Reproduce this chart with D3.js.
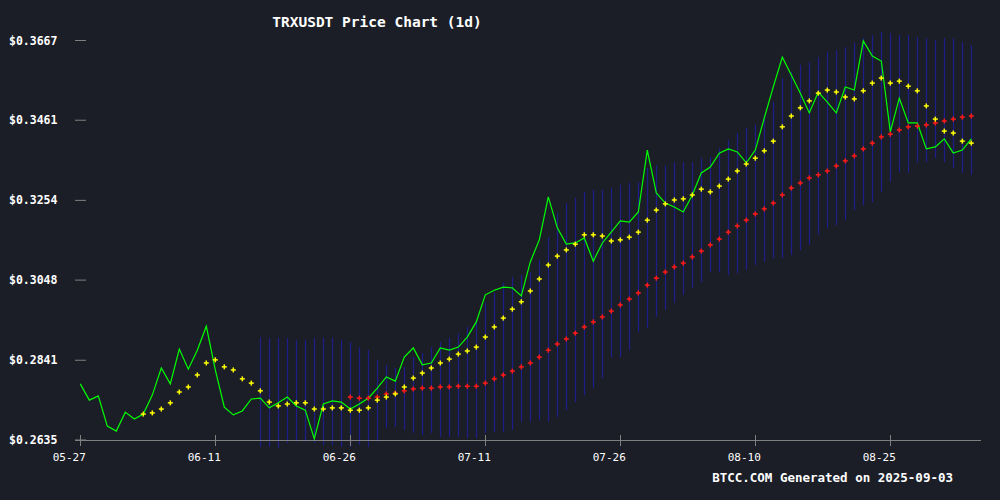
<!DOCTYPE html>
<html><head><meta charset="utf-8">
<script src="https://cdn.jsdelivr.net/npm/d3@7"></script>
<style>html,body{margin:0;padding:0;background:#1b1e27;}svg{display:block;}</style>
</head><body><svg id="c" width="1000" height="500"></svg>
<script>
const startDate = "2025-05-27";
const xTickLabels = ["05-27","06-11","06-26","07-11","07-26","08-10","08-25"];
const yTickValues = [0.2635,0.2841,0.3048,0.3254,0.3461,0.3667];
const price = [0.2780,0.2738,0.2749,0.2671,0.2658,0.2707,0.2689,0.2702,0.2751,0.2821,
0.2780,0.2870,0.2818,0.2867,0.2929,0.2816,0.2720,0.2700,0.2710,0.2741,
0.2743,0.2718,0.2731,0.2746,0.2723,0.2712,0.2638,0.2728,0.2736,0.2733,
0.2715,0.2728,0.2743,0.2769,0.2798,0.2787,0.2849,0.2873,0.2829,0.2834,
0.2873,0.2867,0.2875,0.2901,0.2940,0.3010,0.3022,0.3030,0.3028,0.3007,
0.3095,0.3152,0.3263,0.3183,0.3141,0.3144,0.3157,0.3097,0.3144,0.3172,
0.3201,0.3198,0.3224,0.3384,0.3273,0.3247,0.3237,0.3224,0.3268,0.3325,
0.3340,0.3376,0.3387,0.3379,0.3351,0.3384,0.3467,0.3547,0.3624,0.3578,
0.3531,0.3480,0.3534,0.3508,0.3480,0.3547,0.3539,0.3666,0.3627,0.3614,
0.3431,0.3518,0.3454,0.3454,0.3387,0.3392,0.3413,0.3376,0.3384,0.3413];
const maShortStart = 7;
const maShort = [0.2702,0.2705,0.2715,0.2731,0.2759,0.2772,0.2803,0.2834,0.2842,0.2824,
0.2816,0.2793,0.2782,0.2762,0.2733,0.2723,0.2728,0.2731,0.2731,0.2715,
0.2715,0.2718,0.2718,0.2712,0.2712,0.2718,0.2738,0.2746,0.2754,0.2772,
0.2795,0.2808,0.2821,0.2834,0.2844,0.2857,0.2865,0.2875,0.2901,0.2927,
0.2950,0.2973,0.2992,0.3020,0.3051,0.3087,0.3110,0.3126,0.3141,0.3165,
0.3165,0.3162,0.3149,0.3152,0.3159,0.3172,0.3203,0.3229,0.3245,0.3255,
0.3258,0.3268,0.3283,0.3276,0.3291,0.3309,0.3330,0.3348,0.3363,0.3382,
0.3407,0.3444,0.3472,0.3493,0.3511,0.3531,0.3539,0.3534,0.3521,0.3516,
0.3537,0.3557,0.3570,0.3557,0.3562,0.3549,0.3537,0.3498,0.3464,0.3433,
0.3428,0.3407,0.3402];
const maLongStart = 30;
const maLong = [0.2746,0.2743,0.2743,0.2746,0.2754,0.2756,0.2762,0.2767,0.2769,0.2769,
0.2772,0.2772,0.2774,0.2774,0.2774,0.2782,0.2793,0.2803,0.2813,0.2824,
0.2834,0.2849,0.2867,0.2883,0.2896,0.2911,0.2927,0.2940,0.2953,0.2968,
0.2984,0.2999,0.3015,0.3035,0.3053,0.3069,0.3082,0.3092,0.3108,0.3123,
0.3139,0.3154,0.3172,0.3188,0.3203,0.3219,0.3232,0.3247,0.3268,0.3286,
0.3299,0.3312,0.3320,0.3330,0.3343,0.3356,0.3369,0.3387,0.3402,0.3418,
0.3425,0.3436,0.3444,0.3446,0.3449,0.3454,0.3459,0.3464,0.3469,0.3472];
const bandStart = 20;
const bandUpper = [0.2901,0.2899,0.2899,0.2899,0.2893,0.2893,0.2899,0.2899,0.2899,0.2893,
0.2888,0.2875,0.2867,0.2842,0.2829,0.2821,0.2824,0.2849,0.2860,0.2875,
0.2888,0.2899,0.2911,0.2927,0.2945,0.2989,0.3015,0.3041,0.3056,0.3061,
0.3069,0.3100,0.3159,0.3221,0.3247,0.3260,0.3276,0.3281,0.3281,0.3286,
0.3294,0.3299,0.3301,0.3338,0.3345,0.3345,0.3353,0.3353,0.3353,0.3363,
0.3366,0.3389,0.3410,0.3428,0.3441,0.3449,0.3475,0.3508,0.3570,0.3586,
0.3604,0.3611,0.3624,0.3637,0.3642,0.3650,0.3661,0.3673,0.3681,0.3689,
0.3686,0.3681,0.3681,0.3676,0.3673,0.3668,0.3673,0.3673,0.3663,0.3655];
const bandLower = [0.2617,0.2617,0.2614,0.2627,0.2630,0.2630,0.2627,0.2622,0.2622,0.2617,
0.2617,0.2622,0.2617,0.2630,0.2666,0.2669,0.2661,0.2653,0.2648,0.2653,
0.2643,0.2643,0.2643,0.2640,0.2640,0.2653,0.2656,0.2656,0.2661,0.2682,
0.2682,0.2687,0.2682,0.2694,0.2712,0.2733,0.2751,0.2769,0.2795,0.2849,
0.2849,0.2867,0.2914,0.2924,0.2953,0.2971,0.2989,0.3010,0.3028,0.3043,
0.3069,0.3069,0.3061,0.3066,0.3074,0.3087,0.3095,0.3105,0.3105,0.3113,
0.3126,0.3139,0.3165,0.3183,0.3190,0.3203,0.3229,0.3242,0.3250,0.3276,
0.3301,0.3327,0.3325,0.3351,0.3353,0.3363,0.3353,0.3338,0.3325,0.3320];

const svg = d3.select("#c");
const mono = "'DejaVu Sans Mono', 'Liberation Mono', monospace";
svg.append("rect").attr("width",1000).attr("height",500).attr("fill","#1b1e27");

const t0 = new Date(startDate + "T00:00:00Z");
const day = 86400000;
const dateOf = i => new Date(t0.getTime() + i*day);
const x = d3.scaleUtc().domain([dateOf(0), dateOf(99)]).range([80.3, 971.3]);
const y = d3.scaleLinear().domain([0.2635, 0.3667]).range([440, 40.5]);
const px = v => Math.round(v) + 0.5;

// bands
const bands = bandUpper.map((u,i)=>({i:i+bandStart,u,l:bandLower[i]}));
svg.append("g").selectAll("line").data(bands).join("line")
  .attr("x1",d=>px(x(dateOf(d.i)))).attr("x2",d=>px(x(dateOf(d.i))))
  .attr("y1",d=>y(d.u)).attr("y2",d=>y(d.l))
  .attr("stroke","#1e1e8a").attr("stroke-width",1.2);

// axes
svg.append("line").attr("x1",75).attr("x2",981).attr("y1",y(0.2635)+0.5).attr("y2",y(0.2635)+0.5)
  .attr("stroke","#808080").attr("stroke-width",1);
const xTicks = xTickLabels.map((l,k)=>({l,d:dateOf(k*15)}));
const xg = svg.append("g");
xg.selectAll("line").data(xTicks).join("line")
  .attr("x1",d=>px(x(d.d))).attr("x2",d=>px(x(d.d))).attr("y1",435).attr("y2",446)
  .attr("stroke","#808080");
xg.selectAll("text").data(xTicks).join("text")
  .attr("x",d=>x(d.d)-11).attr("y",461).attr("text-anchor","middle")
  .attr("fill","#ffffff").attr("font-family",mono).attr("font-size",11).text(d=>d.l);

const yg = svg.append("g");
yg.selectAll("line").data(yTickValues).join("line")
  .attr("x1",75).attr("x2",86).attr("y1",d=>y(d)).attr("y2",d=>y(d))
  .attr("stroke","#808080");
yg.selectAll("text").data(yTickValues).join("text")
  .attr("x",9).attr("y",d=>y(d)+4).attr("fill","#ffffff").attr("font-weight","bold")
  .attr("font-family",mono).attr("font-size",11.5).text(d=>"$"+d.toFixed(4));

// price line
svg.append("path").datum(price)
  .attr("d", d3.line().x((d,i)=>x(dateOf(i))).y(d=>y(d)))
  .attr("fill","none").attr("stroke","#00ff00").attr("stroke-width",1.2);

function crosses(data, start, color){
  const g = svg.append("g").attr("stroke",color).attr("stroke-width",1.5);
  data.forEach((v,k)=>{
    const cx = x(dateOf(k+start)), cy = y(v);
    g.append("line").attr("x1",cx-2.5).attr("x2",cx+2.5).attr("y1",cy).attr("y2",cy);
    g.append("line").attr("x1",cx).attr("x2",cx).attr("y1",cy-2.5).attr("y2",cy+2.5);
  });
}
crosses(maLong, maLongStart, "#ff1a1a");
crosses(maShort, maShortStart, "#ffff00");

svg.append("text").attr("x",377).attr("y",27).attr("text-anchor","middle")
  .attr("fill","#ffffff").attr("font-weight","bold").attr("font-family",mono).attr("font-size",14.5)
  .text("TRXUSDT Price Chart (1d)");
svg.append("text").attr("x",953).attr("y",482).attr("text-anchor","end")
  .attr("fill","#ffffff").attr("font-weight","bold").attr("font-family",mono).attr("font-size",12.5)
  .text("BTCC.COM Generated on 2025-09-03");
</script></body></html>
